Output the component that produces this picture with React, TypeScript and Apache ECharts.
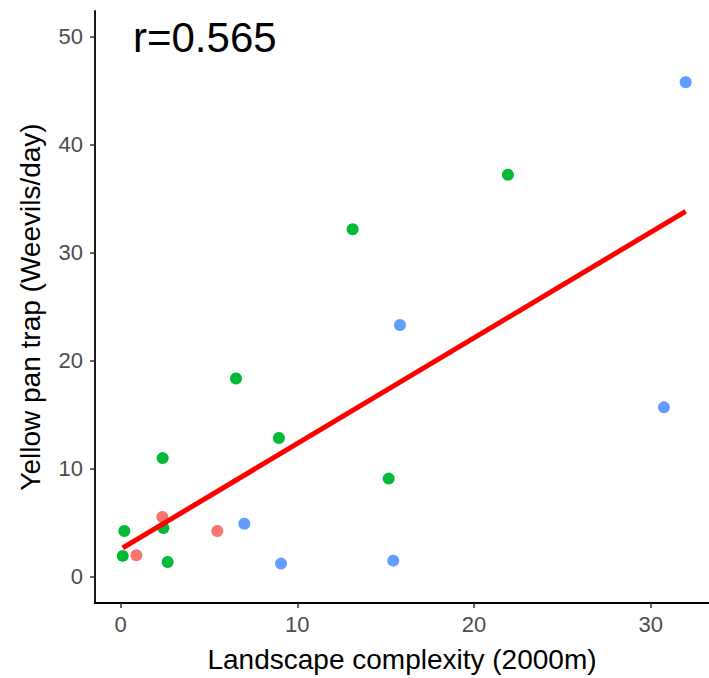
import React, { useEffect, useRef } from "react";
import * as echarts from "echarts";

const redX = [0.89, 2.36, 5.47];
const redY = [2.0, 5.54, 4.25];
const greenX = [0.12, 0.21, 2.38, 2.42, 2.66, 6.53, 8.96, 13.13, 15.17, 21.92];
const greenY = [1.94, 4.25, 11.0, 4.52, 1.38, 18.37, 12.86, 32.19, 9.1, 37.24];
const blueX = [7.0, 9.08, 15.43, 15.81, 30.75, 31.98];
const blueY = [4.92, 1.23, 1.5, 23.32, 15.7, 45.8];
const fitX = [0.12, 31.98];
const fitY = [2.68, 33.85];
const xTicks = [0, 10, 20, 30];
const yTicks = [0, 10, 20, 30, 40, 50];
const rLabel = "r=0.565";
const xTitle = "Landscape complexity (2000m)";
const yTitle = "Yellow pan trap (Weevils/day)";

const FONT = "'Liberation Sans', Arial, Helvetica, sans-serif";

const zip = (xs: number[], ys: number[]) => xs.map((x, i) => [x, ys[i]]);

export default function App() {
  const ref = useRef<HTMLDivElement>(null);
  useEffect(() => {
    if (!ref.current) return;
    const chart = echarts.init(ref.current, null, { renderer: "svg" });
    const axisCommon = {
      axisLine: { show: true, onZero: false, lineStyle: { color: "#000", width: 1.8 } },
      axisTick: { show: true, length: 5, lineStyle: { color: "#333", width: 1.5 } },
      splitLine: { show: false },
      nameLocation: "middle" as const,
      nameTextStyle: { color: "#000", fontSize: 28, fontFamily: FONT },
    };
    chart.setOption({
      animation: false,
      backgroundColor: "#fff",
      grid: { left: 95, right: 0, top: 11, bottom: 73.5, containLabel: false },
      xAxis: {
        type: "value",
        min: -1.45,
        max: 33.3,
        name: xTitle,
        nameGap: 42,
        ...axisCommon,
        axisTick: { ...axisCommon.axisTick, customValues: xTicks },
        axisLabel: {
          customValues: xTicks,
          color: "#4d4d4d",
          fontSize: 22,
          fontFamily: FONT,
          margin: 10,
        },
      },
      yAxis: {
        type: "value",
        min: -2.42,
        max: 52.4,
        name: yTitle,
        nameGap: 51,
        ...axisCommon,
        axisTick: { ...axisCommon.axisTick, customValues: yTicks },
        axisLabel: {
          customValues: yTicks,
          color: "#4d4d4d",
          fontSize: 22,
          fontFamily: FONT,
          margin: 12,
        },
      },
      graphic: [
        {
          type: "text",
          left: 133,
          top: 16,
          style: { text: rLabel, fontSize: 42, fontFamily: FONT, fill: "#000" },
        },
      ],
      series: [
        {
          type: "scatter",
          data: zip(redX, redY),
          symbolSize: 12,
          itemStyle: { color: "#F8766D", opacity: 1 },
          z: 2,
        },
        {
          type: "scatter",
          data: zip(greenX, greenY),
          symbolSize: 12,
          itemStyle: { color: "#00BA38", opacity: 1 },
          z: 3,
        },
        {
          type: "scatter",
          data: zip(blueX, blueY),
          symbolSize: 12,
          itemStyle: { color: "#619CFF", opacity: 1 },
          z: 4,
        },
        {
          type: "line",
          data: zip(fitX, fitY),
          showSymbol: false,
          symbol: "none",
          lineStyle: { color: "#FF0000", width: 5 },
          z: 5,
        },
      ],
    });
    return () => chart.dispose();
  }, []);
  return (
    <div
      ref={ref}
      style={{ position: "absolute", left: 0, top: 0, width: 709, height: 678 }}
    />
  );
}
